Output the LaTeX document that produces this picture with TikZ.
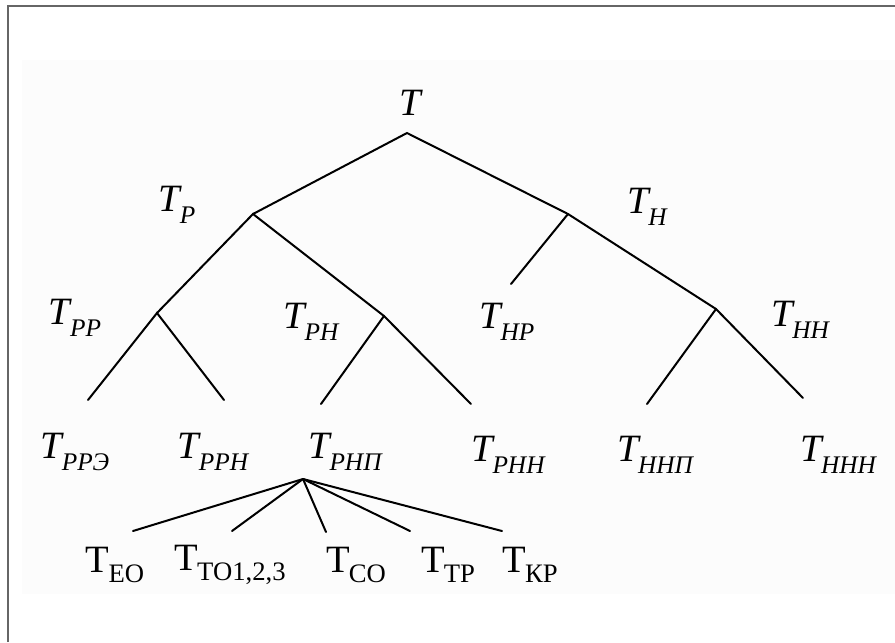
\documentclass[tikz,border=0pt]{standalone}
\usepackage{fontspec}
\setmainfont{Liberation Serif}

% italic label with lowered subscript, upright label with lowered subscript
\newcommand{\Tit}[1]{\textit{T}\kern-0.07em\raisebox{-0.3em}{\fontsize{19}{19}\selectfont\itshape #1}}
\newcommand{\Tup}[1]{T\kern-0.02em\raisebox{-0.27em}{\fontsize{20}{20}\selectfont #1}}

\begin{document}
\begin{tikzpicture}[
    x=0.75pt, y=-0.75pt,
    every node/.style={font=\fontsize{29}{31}\selectfont, inner sep=0pt},
    branch/.style={line width=1.5pt, line cap=round},
]

\useasboundingbox (0,0) rectangle (895,642);

% faint page and frame
\fill[black!1] (22,60) rectangle (895,594);
\draw[black!60, line width=1.2pt] (8,642) -- (8,6) -- (895,6);

% ============================================================
% JUNCTIONS
% ============================================================
\coordinate (rt)  at (407,133);
\coordinate (jP)  at (253,214);
\coordinate (jH)  at (568,214);
\coordinate (jPP) at (157,313);
\coordinate (jPH) at (384,316);
\coordinate (jHH) at (716,309);
\coordinate (eHP) at (511,284);
\coordinate (ePPE) at (88,400);
\coordinate (ePPH) at (224,400);
\coordinate (ePHP) at (321,404);
\coordinate (ePHH) at (471,404);
\coordinate (eHHP) at (647,404);
\coordinate (eHHH) at (803,398);
\coordinate (fan) at (303,479);

% ============================================================
% LABELS
% ============================================================
\node (t)    at (411,103) {\textit{T}};
\node (tP)   at (177,205) {\Tit{Р}};
\node (tH)   at (647,207) {\Tit{Н}};
\node (tPP)  at (75,318)  {\Tit{РР}};
\node (tPH)  at (311,322) {\Tit{РН}};
\node (tHP)  at (507,322) {\Tit{НР}};
\node (tHH)  at (800,320) {\Tit{НН}};

\node (tPPE) at (75,452)  {\Tit{РРЭ}};
\node (tPPH) at (213,452) {\Tit{РРН}};
\node (tPHP) at (345,452) {\Tit{РНП}};
\node (tPHH) at (508,455) {\Tit{РНН}};
\node (tHHP) at (655,455) {\Tit{ННП}};
\node (tHHH) at (838,455) {\Tit{ННН}};

\node (tEO)  at (115,565) {\Tup{ЕО}};
\node (tTO)  at (230,565) {\Tup{ТО1,2,3}};
\node (tCO)  at (356,565) {\Tup{СО}};
\node (tTP)  at (448,565) {\Tup{ТР}};
\node (tKP)  at (530,565) {\Tup{КР}};

% ============================================================
% BRANCHES
% ============================================================
\draw[branch] (jP) -- (rt) -- (jH) -- (jHH) -- (eHHH);
\draw[branch] (jH) -- (eHP);
\draw[branch] (jHH) -- (eHHP);
\draw[branch] (jPP) -- (jP) -- (jPH) -- (ePHH);
\draw[branch] (ePPE) -- (jPP) -- (ePPH);
\draw[branch] (jPH) -- (ePHP);

% fan below T_PHP
\foreach \e in {(133,531),(232,531),(326,532),(410,531),(502,531)}
    \draw[branch] (fan) -- \e;

\end{tikzpicture}
\end{document}
